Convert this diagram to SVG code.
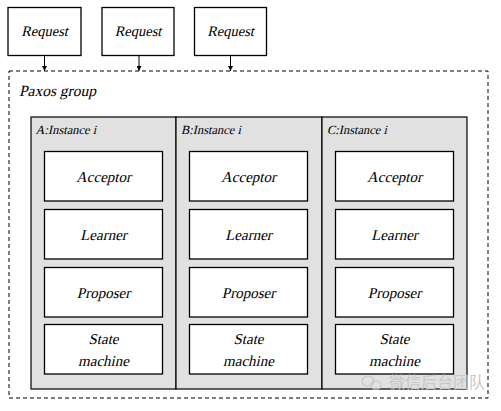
<svg xmlns="http://www.w3.org/2000/svg" width="501" height="411" viewBox="0 0 501 411">
<style>
.box{fill:#fff;stroke:#000;stroke-width:1.3}
.t{font-family:'Liberation Serif','Times New Roman',serif;font-size:15px;fill:#000;text-anchor:middle}
.rq{font-size:14.5px}
.lbl{font-family:'Liberation Serif','Times New Roman',serif;font-size:12.5px;fill:#000}
.col{fill:#e1e1e1;stroke:#000;stroke-width:1.2}
.conn{stroke:#000;stroke-width:1;fill:none}
</style>
<defs>
<marker id="ah" viewBox="0 0 10 10" refX="10" refY="5" markerWidth="5" markerHeight="5" orient="auto">
<path d="M0,0 L10,5 L0,10 z" fill="#000"/>
</marker>
</defs>
<rect width="501" height="411" fill="#fff"/>
<g id="req1"><rect class="box" x="8" y="7.5" width="73" height="48"/><text class="t rq" transform="translate(44.5,36) skewX(-13)">Request</text></g>
<g id="req2"><rect class="box" x="102" y="7.5" width="72" height="48"/><text class="t rq" transform="translate(138,36) skewX(-13)">Request</text></g>
<g id="req3"><rect class="box" x="194.5" y="7.5" width="72" height="48"/><text class="t rq" transform="translate(230.5,36) skewX(-13)">Request</text></g>
<g id="paxos-group">
<rect x="9" y="71" width="479" height="327" fill="none" stroke="#000" stroke-width="1" stroke-dasharray="4,3"/>
<text class="lbl" transform="translate(19,96) skewX(-13)" style="font-size:15.5px">Paxos group</text>
</g>
<g id="colA">
<rect class="col" x="31" y="117" width="145" height="272"/>
<text class="lbl" transform="translate(35.5,134) skewX(-13)">A:Instance i</text>
</g>
<g id="colB">
<rect class="col" x="176" y="117" width="146" height="272"/>
<text class="lbl" transform="translate(181,134) skewX(-13)">B:Instance i</text>
</g>
<g id="colC">
<rect class="col" x="322" y="117" width="145" height="272"/>
<text class="lbl" transform="translate(327,134) skewX(-13)">C:Instance i</text>
</g>
<g id="A-acceptor"><rect class="box" x="44.5" y="151.5" width="118" height="49.5"/><text class="t" transform="translate(103.5,181.5) skewX(-13)">Acceptor</text></g>
<g id="A-learner"><rect class="box" x="44.5" y="209.5" width="118" height="49.5"/><text class="t" transform="translate(103.5,239.5) skewX(-13)">Learner</text></g>
<g id="A-proposer"><rect class="box" x="44.5" y="267.5" width="118" height="49.5"/><text class="t" transform="translate(103.5,297.5) skewX(-13)">Proposer</text></g>
<g id="A-state"><rect class="box" x="44.5" y="324.5" width="118" height="49.5"/><text class="t" transform="translate(103.5,343.5) skewX(-13)">State</text><text class="t" transform="translate(103.5,366) skewX(-13)">machine</text></g>
<g id="B-acceptor"><rect class="box" x="189.5" y="151.5" width="118" height="49.5"/><text class="t" transform="translate(248.5,181.5) skewX(-13)">Acceptor</text></g>
<g id="B-learner"><rect class="box" x="189.5" y="209.5" width="118" height="49.5"/><text class="t" transform="translate(248.5,239.5) skewX(-13)">Learner</text></g>
<g id="B-proposer"><rect class="box" x="189.5" y="267.5" width="118" height="49.5"/><text class="t" transform="translate(248.5,297.5) skewX(-13)">Proposer</text></g>
<g id="B-state"><rect class="box" x="189.5" y="324.5" width="118" height="49.5"/><text class="t" transform="translate(248.5,343.5) skewX(-13)">State</text><text class="t" transform="translate(248.5,366) skewX(-13)">machine</text></g>
<g id="C-acceptor"><rect class="box" x="335.5" y="151.5" width="118" height="49.5"/><text class="t" transform="translate(394.5,181.5) skewX(-13)">Acceptor</text></g>
<g id="C-learner"><rect class="box" x="335.5" y="209.5" width="118" height="49.5"/><text class="t" transform="translate(394.5,239.5) skewX(-13)">Learner</text></g>
<g id="C-proposer"><rect class="box" x="335.5" y="267.5" width="118" height="49.5"/><text class="t" transform="translate(394.5,297.5) skewX(-13)">Proposer</text></g>
<g id="C-state"><rect class="box" x="335.5" y="324.5" width="118" height="49.5"/><text class="t" transform="translate(394.5,343.5) skewX(-13)">State</text><text class="t" transform="translate(394.5,366) skewX(-13)">machine</text></g>
<g id="connectors">
<line class="conn" x1="44.5" y1="55.5" x2="44.5" y2="71" marker-end="url(#ah)"/>
<line class="conn" x1="139" y1="55.5" x2="139" y2="71" marker-end="url(#ah)"/>
<line class="conn" x1="230.5" y1="55.5" x2="230.5" y2="71" marker-end="url(#ah)"/>
</g>
<g id="watermark" fill="none" stroke="#c8c8c8" stroke-width="1.2">
<ellipse cx="368" cy="381" rx="6" ry="5"/>
<ellipse cx="376" cy="385" rx="5" ry="4.2"/>
<text x="389" y="388" style="font-family:'Noto Sans CJK SC',sans-serif;font-size:16px;fill:#c8c8c8;stroke:none">微信后台团队</text>
</g>
</svg>
